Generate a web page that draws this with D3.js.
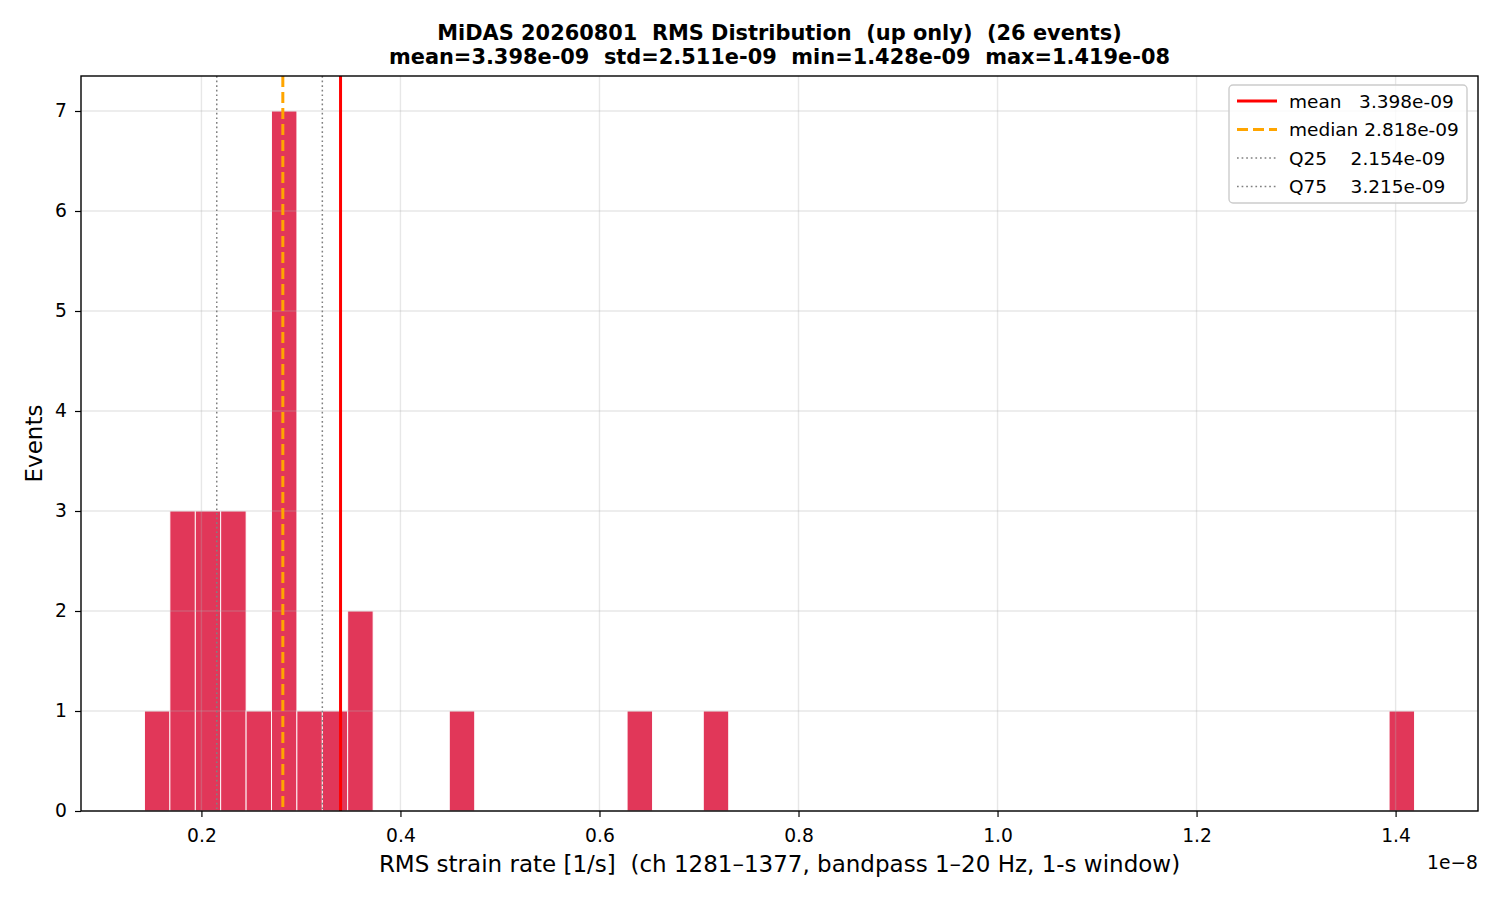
<!DOCTYPE html>
<html>
<head>
<meta charset="utf-8">
<script src="https://cdn.jsdelivr.net/npm/d3@7"></script>
<style>
  body{margin:0;background:#fff;}
  text{font-family:"DejaVu Sans",sans-serif;fill:#000;}
</style>
</head>
<body>
<script>
// histogram of RMS strain rate, 50 bins between min and max
var rmsMin=1.428e-9
var rmsMax=1.419e-8
var binCounts=[1,3,3,3,1,7,1,1,2,0, 0,0,1,0,0,0,0,0,0,1, 0,0,1,0,0,0,0,0,0,0,
               0,0,0,0,0,0,0,0,0,0, 0,0,0,0,0,0,0,0,0,1]
var statNames=["mean","median","Q25","Q75"]
var statValues=[3.398e-9,2.818e-9,2.154e-9,3.215e-9]
var legendLabels=["mean   3.398e-09","median 2.818e-09","Q25    2.154e-09","Q75    3.215e-09"]
var xTicks=[0.2e-8,0.4e-8,0.6e-8,0.8e-8,1.0e-8,1.2e-8,1.4e-8]
var yTicks=[0,1,2,3,4,5,6,7]

var screen={width:1500,height:900}
var margins={top:76,right:22,bottom:89,left:81}
var width=screen.width-margins.left-margins.right
var height=screen.height-margins.top-margins.bottom

var nBins=binCounts.length
var binW=(rmsMax-rmsMin)/nBins
var bins=binCounts.map(function(c,i){return {x0:rmsMin+i*binW,x1:rmsMin+(i+1)*binW,n:c}})

var span=rmsMax-rmsMin
var xScale=d3.scaleLinear().domain([rmsMin-0.05*span,rmsMax+0.05*span]).range([0,width])
var yScale=d3.scaleLinear().domain([0,7*1.05]).range([height,0])

var svg=d3.select("body").append("svg")
          .attr("width",screen.width)
          .attr("height",screen.height)
var plot=svg.append("g").attr("transform","translate("+margins.left+","+margins.top+")")

// bars
plot.selectAll("rect.bar")
    .data(bins.filter(function(d){return d.n>0}))
    .enter()
    .append("rect")
    .classed("bar",true)
    .attr("x",function(d){return xScale(d.x0)})
    .attr("y",function(d){return yScale(d.n)})
    .attr("width",function(d){return xScale(d.x1)-xScale(d.x0)})
    .attr("height",function(d){return yScale(0)-yScale(d.n)})
    .attr("fill","#e13759")
    .attr("stroke","#fff")
    .attr("stroke-width",0.9)

// grid above bars
var grid=plot.append("g").attr("stroke","#b0b0b0").attr("stroke-opacity",0.3).attr("stroke-width",1.4)
grid.selectAll("line.gx").data(xTicks).enter().append("line")
    .attr("x1",function(d){return xScale(d)}).attr("x2",function(d){return xScale(d)})
    .attr("y1",0).attr("y2",height)
grid.selectAll("line.gy").data(yTicks).enter().append("line")
    .attr("y1",function(d){return yScale(d)}).attr("y2",function(d){return yScale(d)})
    .attr("x1",0).attr("x2",width)

// stat lines
var statStyle={
  mean:{color:"#ff0000",w:3,dash:null},
  median:{color:"#ffa500",w:3,dash:"11,5"},
  Q25:{color:"#808080",w:1.5,dash:"1.7,2.9"},
  Q75:{color:"#808080",w:1.5,dash:"1.7,2.9"}
}
plot.selectAll("line.stat").data(statNames).enter().append("line")
    .attr("x1",function(d,i){return xScale(statValues[i])})
    .attr("x2",function(d,i){return xScale(statValues[i])})
    .attr("y1",0).attr("y2",height)
    .attr("stroke",function(d){return statStyle[d].color})
    .attr("stroke-width",function(d){return statStyle[d].w})
    .attr("stroke-dasharray",function(d){return statStyle[d].dash})

// axes
var xAxis=plot.append("g").attr("transform","translate(0,"+height+")")
              .call(d3.axisBottom(xScale).tickValues(xTicks).tickSizeOuter(0).tickSize(6).tickPadding(11.5)
                    .tickFormat(function(d){return (d/1e-8).toFixed(1)}))
var yAxis=plot.append("g")
              .call(d3.axisLeft(yScale).tickValues(yTicks).tickSizeOuter(0).tickSize(6).tickPadding(8)
                    .tickFormat(d3.format("d")))
svg.selectAll(".tick text").style("font-size","18.7px").style("font-family","DejaVu Sans").attr("fill","#000")
svg.selectAll(".tick line").attr("stroke","#000").attr("stroke-width",1.2)
svg.selectAll(".domain").remove()
plot.append("rect").attr("x",0).attr("y",0).attr("width",width).attr("height",height)
    .attr("fill","none").attr("stroke","#000").attr("stroke-width",1.4)

// offset text
svg.append("text").attr("x",margins.left+width).attr("y",869)
   .attr("text-anchor","end").style("font-size","18.7px").text("1e\u22128")

// labels
svg.append("text").attr("x",margins.left+width/2).attr("y",872)
   .attr("text-anchor","middle").style("font-size","23px")
   .text("RMS strain rate [1/s]  (ch 1281\u20131377, bandpass 1\u201320 Hz, 1-s window)")
   .style("white-space","pre")
svg.append("text").attr("transform","translate(42,"+(margins.top+height/2)+") rotate(-90)")
   .attr("text-anchor","middle").style("font-size","23px").text("Events")

// title
var titleLines=["MiDAS 20260801  RMS Distribution  (up only)  (26 events)",
                "mean=3.398e-09  std=2.511e-09  min=1.428e-09  max=1.419e-08"]
svg.selectAll("text.title").data(titleLines).enter().append("text")
   .classed("title",true)
   .attr("x",margins.left+width/2)
   .attr("y",function(d,i){return 40+i*23.5})
   .attr("text-anchor","middle").style("font-size","20.9px").attr("font-weight","bold")
   .style("white-space","pre")
   .text(function(d){return d})

// legend
var legend=svg.append("g").attr("transform","translate(1229,85)")
legend.append("rect").attr("width",238).attr("height",118).attr("rx",4)
      .attr("fill","#fff").attr("fill-opacity",0.8).attr("stroke","#cccccc").attr("stroke-width",1.4)
var rows=legend.selectAll("g.row").data(statNames).enter().append("g")
      .attr("transform",function(d,i){return "translate(0,"+(16+i*28.5)+")"})
rows.append("line").attr("x1",8).attr("x2",48).attr("y1",0).attr("y2",0)
    .attr("stroke",function(d){return statStyle[d].color})
    .attr("stroke-width",function(d){return statStyle[d].w})
    .attr("stroke-dasharray",function(d){return statStyle[d].dash})
rows.append("text").attr("x",60).attr("y",6.5).style("font-size","18.5px")
    .style("white-space","pre")
    .text(function(d,i){return legendLabels[i]})
</script>
</body>
</html>
